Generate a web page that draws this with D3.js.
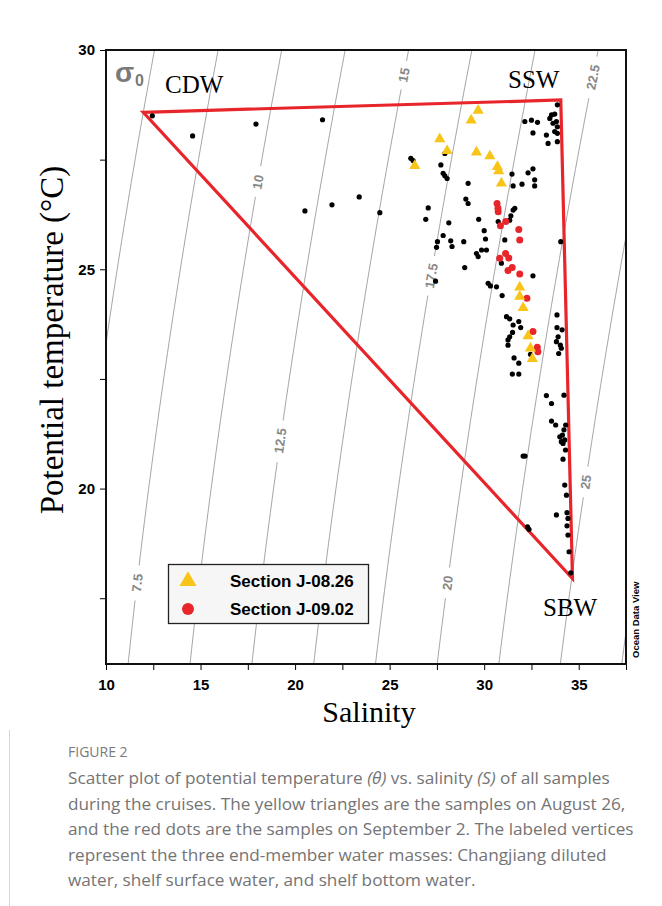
<!DOCTYPE html>
<html>
<head>
<meta charset="utf-8">
<script src="https://cdn.jsdelivr.net/npm/d3@7"></script>
<style>
  html, body { margin: 0; padding: 0; background: #fff; }
  svg { display: block; }
</style>
</head>
<body>
<svg id="fig" width="662" height="906"></svg>
<script>
// ---- data -------------------------------------------------------------
// All samples, [salinity, potential temperature]
const allSamples = [
  [12.45,28.50],[14.58,28.04],[17.93,28.31],[21.45,28.41],[20.52,26.33],[21.95,26.47],[23.39,26.65],[24.48,26.29],
  [26.12,27.53],[26.24,27.48],[27.92,27.64],[27.71,27.38],[27.83,27.19],[27.92,27.13],[28.04,27.07],[29.15,26.96],
  [29.03,26.60],[29.15,26.50],[27.04,26.40],[26.91,26.14],[28.13,26.06],[29.71,26.14],[30.00,25.88],[30.07,25.69],
  [27.83,25.77],[28.23,25.65],[27.53,25.63],[27.48,25.50],[28.30,25.52],[28.92,25.63],[29.59,25.36],[29.86,25.44],
  [29.68,25.29],
  [33.87,28.75],[32.15,28.37],[32.50,28.40],[32.82,28.35],[32.58,28.11],[33.29,28.06],[33.38,27.87],[33.56,28.52],
  [33.73,28.54],[33.47,28.44],[33.64,28.33],[33.82,28.37],[33.87,28.25],[33.73,28.14],[33.87,28.10],[33.87,27.91],
  [31.47,27.17],[32.32,27.20],[32.58,27.29],[32.67,27.04],[32.67,26.90],[31.53,26.90],[32.00,26.94],[31.53,26.35],
  [31.62,26.39],[31.41,26.22],[31.35,26.12],[30.74,26.09],[31.09,25.67],[30.12,25.44],[34.05,25.63],
  [28.97,25.04],[27.43,24.73],[30.21,24.68],[30.33,24.62],[30.65,24.60],[30.95,24.40],[32.58,24.85],[30.91,25.14],
  [31.18,23.92],[31.35,23.87],[31.53,23.73],[31.83,23.81],[31.93,23.67],[31.50,23.56],[31.35,23.46],[31.26,23.39],
  [31.26,23.27],[31.58,22.98],[31.83,22.86],[31.49,22.61],[31.83,22.61],[32.45,23.06],
  [33.85,23.96],[33.85,23.67],[34.12,23.62],[33.91,23.46],[33.82,23.35],[34.03,23.27],[34.08,23.20],[33.94,23.08],
  [33.29,22.12],[34.22,22.13],
  [33.56,21.94],[33.56,21.54],[33.78,21.45],[34.31,21.45],[34.00,21.18],[34.14,21.22],[34.08,21.07],[34.26,21.11],
  [34.17,21.03],[34.30,20.88],[34.17,20.67],[34.22,21.34],[32.06,20.74],[32.16,20.74],
  [34.26,20.08],[34.35,19.85],[33.82,19.40],[34.38,19.45],[34.43,19.32],[34.38,19.15],[34.43,18.94],[32.29,19.13],
  [32.37,19.07],[34.49,18.56],[34.58,18.08]
];

// Section J-08.26 (yellow triangles)
const sectionJ0826 = [
  [29.68,28.62],[29.31,28.40],[27.65,27.97],[28.04,27.70],[29.59,27.67],[30.30,27.58],[30.70,27.34],[30.77,27.24],
  [30.91,26.96],[26.33,27.36],[31.88,24.59],[31.88,24.38],[32.06,24.12],[32.32,23.48],[32.45,23.20],[32.55,22.96]
];

// Section J-09.02 (red dots)
const sectionJ0902 = [
  [30.68,26.50],[30.73,26.39],[30.74,26.31],[31.14,26.09],[30.86,25.99],[31.83,25.91],[31.88,25.67],[31.13,25.36],
  [31.30,25.26],[30.82,25.25],[31.48,25.04],[31.26,24.97],[31.88,24.89],[32.26,24.34],[32.58,23.58],[32.81,23.22],
  [32.84,23.12]
];

// End-member water masses
const endMemberNames = ["CDW", "SSW", "SBW"];
const endMemberS = [11.97, 34.05, 34.67];
const endMemberT = [28.58, 28.86, 17.95];

// Axes
const xTicks = [10, 15, 20, 25, 30, 35];
const xMinorTicks = [12.5, 17.5, 22.5, 27.5, 32.5, 37.5];
const yTicks = [20, 25, 30];
const yMinorTicks = [17.5, 22.5, 27.5];

// sigma-0 isopycnals and where their labels sit (temperature along the line)
const sigmaLevels = [5, 7.5, 10, 12.5, 15, 17.5, 20, 22.5, 25, 27.5];
const sigmaLabelLevels = [7.5, 10, 12.5, 15, 17.5, 20, 22.5, 25];
const sigmaLabelT = [17.85, 26.99, 21.09, 29.43, 24.85, 17.85, 29.38, 20.15];

const legendLabels = ["Section J-08.26", "Section J-09.02"];

// ---- layout ----------------------------------------------------------
const plot = { left: 106, right: 626, top: 50, bottom: 664 };
const RED = "#e8252b", YELLOW = "#f7c417";

const svg = d3.select("#fig");
const x = d3.scaleLinear().domain([10, 37.5]).range([plot.left, plot.right]);
const y = d3.scaleLinear().domain([16, 30]).range([plot.bottom, plot.top]);

svg.append("defs").append("clipPath").attr("id", "plotClip")
  .append("rect")
  .attr("x", plot.left).attr("y", plot.top)
  .attr("width", plot.right - plot.left).attr("height", plot.bottom - plot.top);

// ---- EOS-80 one-atmosphere density ------------------------------------
function rho0(S, T) {
  const rw = 999.842594 + 6.793952e-2*T - 9.095290e-3*T*T + 1.001685e-4*T**3
           - 1.120083e-6*T**4 + 6.536332e-9*T**5;
  const A = 8.24493e-1 - 4.0899e-3*T + 7.6438e-5*T*T - 8.2467e-7*T**3 + 5.3875e-9*T**4;
  const B = -5.72466e-3 + 1.0227e-4*T - 1.6546e-6*T*T;
  const C = 4.8314e-4;
  return rw + A*S + B*Math.pow(S, 1.5) + C*S*S;
}
function salinityAt(sigma, T) {
  let lo = 0, hi = 60;
  for (let i = 0; i < 60; i++) {
    const mid = (lo + hi) / 2;
    if (rho0(mid, T) - 1000 < sigma) lo = mid; else hi = mid;
  }
  return (lo + hi) / 2;
}

// ---- isopycnal labels (measured first so the lines can leave a gap) ----
const gIso = svg.append("g").attr("clip-path", "url(#plotClip)");
const gLab = svg.append("g");
const gaps = {};
sigmaLabelLevels.forEach((lev, i) => {
  const T = sigmaLabelT[i];
  const S = salinityAt(lev, T);
  const px = x(S), py = y(T);
  const p1x = x(salinityAt(lev, T - 0.3)), p1y = y(T - 0.3);
  const p2x = x(salinityAt(lev, T + 0.3)), p2y = y(T + 0.3);
  const ang = Math.atan2(p2y - p1y, p2x - p1x) * 180 / Math.PI;
  const t = gLab.append("text")
    .attr("transform", `translate(${px},${py}) rotate(${ang})`)
    .attr("text-anchor", "middle")
    .attr("dy", "0.36em")
    .attr("font-family", "Liberation Sans, Arial, sans-serif")
    .attr("font-weight", "bold")
    .attr("font-size", 13)
    .attr("fill", "#888")
    .text(String(lev));
  const len = t.node().getComputedTextLength();
  gaps[lev] = { px, py, r: len / 2 + 7 };
});

const isoLine = d3.line().defined(d => d.ok).x(d => d.x).y(d => d.y);
sigmaLevels.forEach(lev => {
  const pts = d3.range(15.5, 30.51, 0.05).map(T => {
    const px = x(salinityAt(lev, T)), py = y(T);
    const g = gaps[lev];
    const ok = !g || Math.hypot(px - g.px, py - g.py) > g.r;
    return { x: px, y: py, ok };
  });
  gIso.append("path")
    .attr("d", isoLine(pts))
    .attr("fill", "none")
    .attr("stroke", "#8a8a8a")
    .attr("stroke-width", 0.8);
});

// ---- mixing triangle --------------------------------------------------
const triPts = endMemberS.map((s, i) => [x(s), y(endMemberT[i])]);
svg.append("path")
  .attr("d", d3.line()(triPts) + "Z")
  .attr("fill", "none")
  .attr("stroke", RED)
  .attr("stroke-width", 3.2)
  .attr("stroke-linejoin", "miter");

// ---- samples ---------------------------------------------------------
const gPts = svg.append("g").attr("clip-path", "url(#plotClip)");
gPts.selectAll("circle.all").data(allSamples).join("circle")
  .attr("class", "all")
  .attr("cx", d => x(d[0])).attr("cy", d => y(d[1]))
  .attr("r", 2.6).attr("fill", "#000");

gPts.selectAll("circle.sep").data(sectionJ0902).join("circle")
  .attr("class", "sep")
  .attr("cx", d => x(d[0])).attr("cy", d => y(d[1]))
  .attr("r", 3.5).attr("fill", RED);

const triSym = d3.symbol(d3.symbolTriangle, 54);
gPts.selectAll("path.aug").data(sectionJ0826).join("path")
  .attr("class", "aug")
  .attr("transform", d => `translate(${x(d[0])},${y(d[1])})`)
  .attr("d", triSym)
  .attr("fill", YELLOW);

// ---- frame and axes ----------------------------------------------------
const axisFont = "Liberation Sans, Arial, sans-serif";
svg.append("g").attr("transform", `translate(0,${plot.bottom})`)
  .call(d3.axisBottom(x).tickValues(xTicks).tickSize(6).tickPadding(9).tickFormat(d3.format("d")));
svg.append("g").attr("transform", `translate(0,${plot.bottom})`)
  .call(d3.axisBottom(x).tickValues(xMinorTicks).tickSize(6).tickFormat(""));
svg.append("g").attr("transform", `translate(${plot.left},0)`)
  .call(d3.axisLeft(y).tickValues(yTicks).tickSize(6).tickPadding(5).tickFormat(d3.format("d")));
svg.append("g").attr("transform", `translate(${plot.left},0)`)
  .call(d3.axisLeft(y).tickValues(yMinorTicks).tickSize(6).tickFormat(""));
svg.selectAll(".domain").remove();
svg.selectAll(".tick line").attr("stroke", "#000").attr("stroke-width", 1);
svg.selectAll(".tick text")
  .attr("font-family", axisFont).attr("font-weight", "bold")
  .attr("font-size", 15).attr("fill", "#000");

svg.append("rect")
  .attr("x", plot.left).attr("y", plot.top)
  .attr("width", plot.right - plot.left).attr("height", plot.bottom - plot.top)
  .attr("fill", "none").attr("stroke", "#111").attr("stroke-width", 2);

// axis titles
const serif = "Liberation Serif, Times New Roman, serif";
svg.append("text")
  .attr("transform", "translate(63,340) rotate(-90)")
  .attr("text-anchor", "middle")
  .attr("font-family", serif).attr("font-size", 33).attr("fill", "#000")
  .text("Potential temperature (°C)");
svg.append("text")
  .attr("x", 369).attr("y", 722)
  .attr("text-anchor", "middle")
  .attr("font-family", serif).attr("font-size", 30).attr("fill", "#000")
  .text("Salinity");

// sigma-0 symbol
svg.append("text").attr("x", 115).attr("y", 82)
  .attr("font-family", axisFont).attr("font-weight", "bold")
  .attr("font-size", 28).attr("fill", "#7a7a7a").text("σ");
svg.append("text").attr("x", 135).attr("y", 85.5)
  .attr("font-family", axisFont).attr("font-weight", "bold")
  .attr("font-size", 16).attr("fill", "#7a7a7a").text("0");

// end-member labels
const emLabelPos = [[165, 93], [508, 88], [543, 616]];
endMemberNames.forEach((n, i) => {
  svg.append("text")
    .attr("x", emLabelPos[i][0]).attr("y", emLabelPos[i][1])
    .attr("font-family", serif).attr("font-size", 25).attr("fill", "#000")
    .text(n);
});

// Ocean Data View tag
svg.append("text")
  .attr("transform", "translate(638.5,658) rotate(-90)")
  .attr("font-family", axisFont).attr("font-weight", "bold")
  .attr("font-size", 9.5).attr("fill", "#000")
  .text("Ocean Data View");

// ---- legend -----------------------------------------------------------
const lg = svg.append("g");
lg.append("rect")
  .attr("x", 168.5).attr("y", 564.5).attr("width", 200).attr("height", 59)
  .attr("fill", "#f6f6f6").attr("stroke", "#222").attr("stroke-width", 1.3);
lg.append("path")
  .attr("transform", "translate(188,581)")
  .attr("d", d3.symbol(d3.symbolTriangle, 125)())
  .attr("fill", YELLOW);
lg.append("circle").attr("cx", 188).attr("cy", 609).attr("r", 6).attr("fill", RED);
legendLabels.forEach((l, i) => {
  lg.append("text")
    .attr("x", 230).attr("y", 587 + i * 28)
    .attr("font-family", axisFont).attr("font-weight", "bold")
    .attr("font-size", 17).attr("fill", "#000")
    .text(l);
});

// ---- caption ----------------------------------------------------------
const capFont = "Open Sans, Lato, sans-serif";
svg.append("line").attr("x1", 9.5).attr("x2", 9.5).attr("y1", 730).attr("y2", 906)
  .attr("stroke", "#d6d6d6").attr("stroke-width", 1);
svg.append("text").attr("x", 68).attr("y", 757)
  .attr("font-family", capFont).attr("font-size", 14).attr("fill", "#7a7a7a")
  .text("FIGURE 2");

const capLines = [
  [["Scatter plot of potential temperature ", false], ["(θ)", true], [" vs. salinity ", false], ["(S)", true], [" of all samples", false]],
  [["during the cruises. The yellow triangles are the samples on August 26,", false]],
  [["and the red dots are the samples on September 2. The labeled vertices", false]],
  [["represent the three end-member water masses: Changjiang diluted", false]],
  [["water, shelf surface water, and shelf bottom water.", false]]
];
capLines.forEach((parts, i) => {
  const t = svg.append("text")
    .attr("x", 68).attr("y", 784 + i * 25.5)
    .attr("font-family", capFont).attr("font-size", 17.2).attr("fill", "#747474");
  parts.forEach(([s, it]) => {
    t.append("tspan").attr("font-style", it ? "italic" : "normal").text(s);
  });
});
</script>
</body>
</html>
